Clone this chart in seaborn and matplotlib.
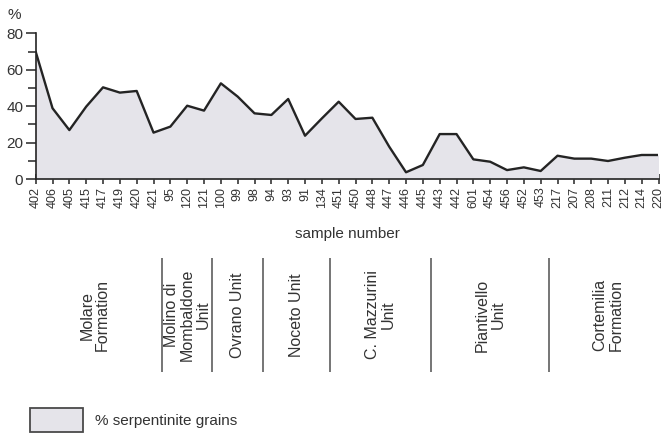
import numpy as np
import pandas as pd
import matplotlib
matplotlib.use("Agg")
import matplotlib.pyplot as plt
from matplotlib.patches import Patch
import seaborn as sns

# Sample sequence along the section and serpentinite content (%)
samples = ["402", "406", "405", "415", "417", "419", "420", "421",
           "95", "120", "121", "100", "99", "98", "94", "93", "91", "134",
           "451", "450", "448", "447", "446", "445", "443", "442",
           "601", "454", "456", "452", "453",
           "217", "207", "208", "211", "212", "214", "220"]
serpentinite = [70.0, 38.9, 26.9, 39.8, 50.4, 47.5, 48.4, 25.5,
                28.8, 40.3, 37.6, 52.6, 45.3, 36.1, 35.2, 44.0, 23.8, 33.3,
                42.5, 33.0, 33.7, 17.8, 3.7, 7.7, 24.7, 24.7,
                10.8, 9.5, 4.9, 6.4, 4.4,
                12.8, 11.2, 11.2, 9.9, 11.7, 13.2, 13.2]

# Tectonic units, in order, with the number of samples in each
units = ["Molare\nFormation", "Molino di\nMombaldone\nUnit", "Ovrano Unit",
         "Noceto Unit", "C. Mazzurini\nUnit", "Piantivello\nUnit",
         "Cortemilia\nFormation"]
unit_sizes = [8, 3, 3, 4, 6, 7, 7]

y_major = [0, 20, 40, 60, 80]
y_minor = [10, 30, 50, 70]

sns.set_theme(style="ticks")
plt.rcParams["font.family"] = ["Liberation Sans", "DejaVu Sans"]

TEXT = "#333333"
LINE = "#242424"
FILL = "#e5e4ea"

df = pd.DataFrame({"pos": np.arange(len(samples)),
                   "sample": samples,
                   "pct": serpentinite})

W, H = 664, 434
fig = plt.figure(figsize=(W / 100, H / 100), dpi=100)
fig.patch.set_facecolor("white")


def rect(x0, y0, x1, y1):
    return [x0 / W, 1 - y1 / H, (x1 - x0) / W, (y1 - y0) / H]


# --- profile -------------------------------------------------------------
ax = fig.add_axes(rect(35.7, 33.5, 658.5, 179))
ax.fill_between(df["pos"], df["pct"], 0, color=FILL, lw=0, zorder=1)
sns.lineplot(data=df, x="pos", y="pct", ax=ax, sort=False,
             color=LINE, lw=1.7, zorder=3)

ax.set_xlim(0, len(samples) - 1)
ax.set_ylim(0, 80)
ax.set_xticks(df["pos"])
ax.set_xticklabels(samples, rotation=90, fontsize=9, color=TEXT)
ax.set_yticks(y_major)
ax.set_yticks(y_minor, minor=True)
ax.set_yticklabels([str(v) for v in y_major], fontsize=11, color=TEXT)
ax.tick_params(axis="x", direction="inout", length=7, width=1.1,
               color=LINE, pad=2)
ax.tick_params(axis="y", which="major", direction="out", length=7,
               width=1.1, color=LINE, pad=2)
ax.tick_params(axis="y", which="minor", direction="out", length=6,
               width=1.1, color=LINE)
sns.despine(ax=ax)
for side in ("left", "bottom"):
    ax.spines[side].set_color(LINE)
    ax.spines[side].set_linewidth(1.2)
ax.set_ylabel("")
ax.set_xlabel("sample number", fontsize=11, color=TEXT)
ax.xaxis.set_label_coords(0.5, -(227 - 179) / 145.5)
ax.xaxis.label.set_va("top")
ax.set_facecolor("white")

fig.text(8 / W, 1 - 15 / H, "%", fontsize=11, color=TEXT, va="center")

# --- unit strip ----------------------------------------------------------
ax2 = fig.add_axes(rect(35.7, 258, 658.5, 372))
ax2.set_xlim(0, len(samples) - 1)
ax2.set_ylim(0, 1)
ax2.axis("off")

bounds = np.cumsum(unit_sizes)
starts = np.concatenate([[0], bounds[:-1]])
for b in bounds[:-1]:
    ax2.axvline(b - 0.5, color="#6a6a6a", lw=1.3)
for name, s, n in zip(units, starts, unit_sizes):
    ax2.text(s + (n - 1) / 2, 0.5, name, rotation=90, ha="center",
             va="center", multialignment="center", linespacing=1.05,
             fontsize=11.5, color=TEXT)

# --- key -----------------------------------------------------------------
fs = 11
px = fs * 100 / 72
fig.legend(handles=[Patch(facecolor=FILL, edgecolor="#4a4a4a", lw=1.3,
                          label="% serpentinite grains")],
           loc="lower left", bbox_to_anchor=(30 / W, 2 / H),
           frameon=False, borderpad=0, borderaxespad=0,
           handlelength=53 / px, handleheight=31 / px,
           handletextpad=12 / px, fontsize=fs, labelcolor=TEXT)

fig.savefig("out.png", dpi=100, facecolor="white")
